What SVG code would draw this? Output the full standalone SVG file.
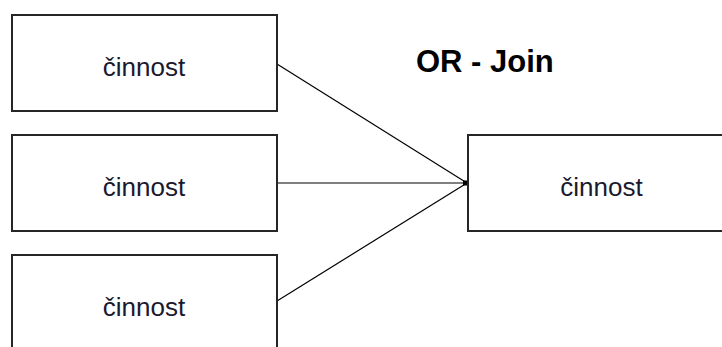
<svg xmlns="http://www.w3.org/2000/svg" width="722" height="347" viewBox="0 0 722 347">
  <style>
    .box { fill: #ffffff; stroke: #262626; stroke-width: 2; }
    .label { font-family: "Liberation Sans", Arial, sans-serif; font-size: 26px; fill: #1a1a2e; text-anchor: middle; }
    .title { font-family: "Liberation Sans", Arial, sans-serif; font-size: 31px; font-weight: bold; fill: #000000; }
    .conn { stroke: #000000; stroke-width: 1.2; fill: none; }
  </style>
  <rect width="722" height="347" fill="#ffffff"/>

  <text class="title" x="416" y="72">OR - Join</text>

  <g id="connectors">
    <line class="conn" x1="277" y1="64" x2="467" y2="183"/>
    <line class="conn" x1="277" y1="183" x2="467" y2="183"/>
    <line class="conn" x1="277" y1="301" x2="467" y2="183"/>
    <rect x="463" y="180.5" width="5" height="5" fill="#000000"/>
  </g>

  <g id="activity-1">
    <rect class="box" x="12" y="15" width="265" height="96"/>
    <text class="label" x="144" y="76">činnost</text>
  </g>

  <g id="activity-2">
    <rect class="box" x="12" y="135" width="265" height="96"/>
    <text class="label" x="144" y="196">činnost</text>
  </g>

  <g id="activity-3">
    <rect class="box" x="12" y="255" width="265" height="96"/>
    <text class="label" x="144" y="316">činnost</text>
  </g>

  <g id="activity-join">
    <rect class="box" x="468" y="135" width="267" height="96"/>
    <text class="label" x="601.5" y="196">činnost</text>
  </g>
</svg>
